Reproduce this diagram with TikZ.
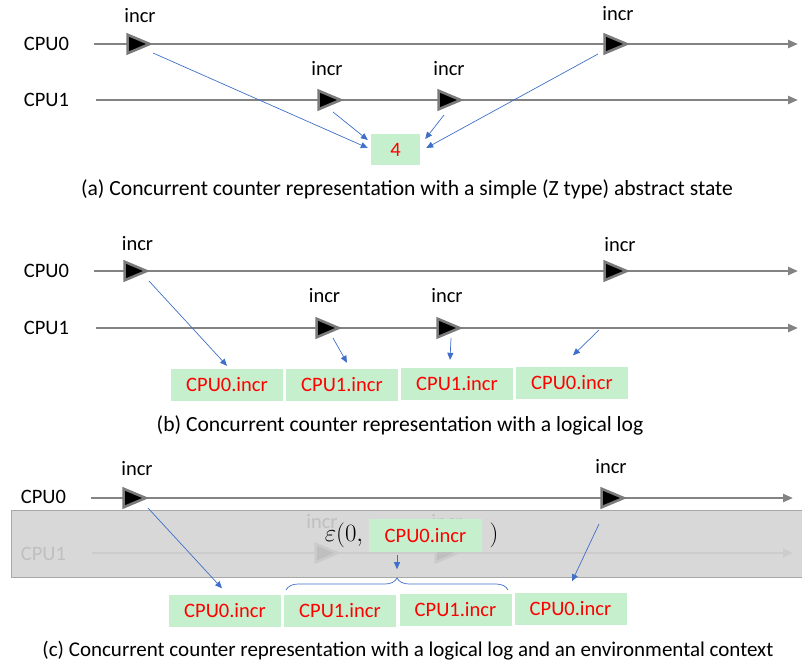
\documentclass[tikz,border=0pt]{standalone}
\usepackage{fontspec}
\setmainfont{Carlito}
\usetikzlibrary{arrows.meta,shapes.geometric,decorations.pathreplacing}
\definecolor{tlgray}{HTML}{838383}
\definecolor{evgray}{HTML}{7A7A7A}
\definecolor{logblue}{HTML}{3F6FC8}
\definecolor{cellgreen}{HTML}{C6EFCE}
\definecolor{envfill}{HTML}{D4D4D4}
\definecolor{envedge}{HTML}{A8A8A8}
\tikzset{
  txt/.style={inner sep=0pt, font=\fontsize{20.5}{22}\selectfont},
  cpulbl/.style={txt},
  evlbl/.style={txt},
  caption/.style={inner sep=0pt, font=\fontsize{21.6}{23}\selectfont},
  timeline/.style={draw=tlgray, line width=2.4pt, -{Triangle[length=10pt,width=8pt]}},
  ev/.style={isosceles triangle, isosceles triangle stretches, minimum width=18.5pt,
    minimum height=22pt, inner sep=0pt, fill=black, draw=evgray, line width=2.6pt, anchor=apex},
  logarrow/.style={draw=logblue, line width=0.7pt, -{Triangle[length=7pt,width=6pt]}},
  cell/.style={txt, fill=cellgreen, text=red, minimum width=112pt, minimum height=32pt},
  logbrace/.style={draw=logblue, line width=0.7pt, decorate, decoration={brace, amplitude=12pt}},
  envband/.style={fill=envfill, fill opacity=0.9, draw=envedge, line width=1pt},
  mathtxt/.style={inner sep=0pt, font=\fontsize{24}{25}\selectfont}
}
\begin{document}
\begin{tikzpicture}[x=1pt,y=-1pt]
\useasboundingbox (0,0) rectangle (802,665);

% ---------- (a) shared counter ----------
\node[cpulbl] (a0lbl) at (46.5,44) {CPU0};
\node[cpulbl] (a1lbl) at (46.5,100) {CPU1};
\coordinate (a0s) at (94,44);  \coordinate (a0t) at (798,44);
\coordinate (a1s) at (96,100); \coordinate (a1t) at (798,100);
\draw[timeline] (a0s) -- (a0t);
\draw[timeline] (a1s) -- (a1t);
\node[ev] (a0e1) at (153,44) {};
\node[ev] (a0e2) at (630,44) {};
\node[ev] (a1e1) at (344,100) {};
\node[ev] (a1e2) at (464,100) {};
\node[evlbl] (a0i1) at (140,16) {incr};
\node[evlbl] (a0i2) at (618,14) {incr};
\node[evlbl] (a1i1) at (327,69) {incr};
\node[evlbl] (a1i2) at (449,69) {incr};
\node[cell, minimum width=49pt, minimum height=31pt] (cnt) at (395.5,149.5) {4};
\draw[logarrow] ([shift={(0,9)}]a0e1.apex) -- ([shift={(-3,-1.5)}]cnt.west);
\draw[logarrow] ([shift={(-11,12)}]a1e1.apex) -- ([shift={(-3,-9.5)}]cnt.west);
\draw[logarrow] ([shift={(-20,15)}]a1e2.apex) -- ([shift={(5,-10.5)}]cnt.east);
\draw[logarrow] ([shift={(-32,10)}]a0e2.apex) -- ([shift={(6,-1.5)}]cnt.east);
\node[caption] (capa) at (407,189) {(a) Concurrent counter representation with a simple (Z type) abstract state};

% ---------- (b) logical log ----------
\node[cpulbl] (b0lbl) at (46.5,271) {CPU0};
\node[cpulbl] (b1lbl) at (46.5,328) {CPU1};
\coordinate (b0s) at (94,271);  \coordinate (b0t) at (798,271);
\coordinate (b1s) at (96,328);  \coordinate (b1t) at (798,328);
\draw[timeline] (b0s) -- (b0t);
\draw[timeline] (b1s) -- (b1t);
\node[ev] (b0e1) at (150,271) {};
\node[ev] (b0e2) at (630,271) {};
\node[ev] (b1e1) at (342,328) {};
\node[ev] (b1e2) at (463,328) {};
\node[evlbl] (b0i1) at (137.5,244) {incr};
\node[evlbl] (b0i2) at (620,245) {incr};
\node[evlbl] (b1i1) at (324.5,296) {incr};
\node[evlbl] (b1i2) at (447,296) {incr};
\node[cell] (b1) at (227,385) {CPU0.incr};
\node[cell] (b2) at (342,385) {CPU1.incr};
\node[cell] (b3) at (457,384) {CPU1.incr};
\node[cell] (b4) at (572,382.5) {CPU0.incr};
\draw[logarrow] ([shift={(-1,10)}]b0e1.apex) -- ([shift={(0,-3)}]b1.north);
\draw[logarrow] ([shift={(-9,10)}]b1e1.apex) -- ([shift={(5,-6)}]b2.north);
\draw[logarrow] ([shift={(-12,10)}]b1e2.apex) -- ([shift={(-7,-8)}]b3.north);
\draw[logarrow] ([shift={(-31,59)}]b0e2.apex) -- ([shift={(1,-11)}]b4.north);
\node[caption] (capb) at (400,425) {(b) Concurrent counter representation with a logical log};

% ---------- (c) logical log with environmental context ----------
\node[cpulbl] (c0lbl) at (43.5,497) {CPU0};
\coordinate (c0s) at (91,498);  \coordinate (c0t) at (793,498);
\draw[timeline] (c0s) -- (c0t);
\node[ev] (c0e1) at (149,498) {};
\node[ev] (c0e2) at (627,498) {};
\node[evlbl] (c0i1) at (137,469) {incr};
\node[evlbl] (c0i2) at (611,467) {incr};

% CPU1 sits behind the environment band
\node[cpulbl] (c1lbl) at (43.5,554) {CPU1};
\coordinate (c1s) at (92,553);  \coordinate (c1t) at (793,553);
\draw[timeline] (c1s) -- (c1t);
\node[ev] (c1e1) at (341,553) {};
\node[ev] (c1e2) at (461,553) {};
\node[evlbl] (c1i1) at (322,522) {incr};
\node[evlbl] (c1i2) at (447,522) {incr};
\coordinate (envA) at (11,510);
\coordinate (envB) at (802,577);
\path[envband] (envA) rectangle (envB);

\node[mathtxt] (epsl) at (344,535) {$\varepsilon(0,$};
\node[cell, minimum width=113pt, minimum height=33pt] (epsbox) at (425.5,535.5) {CPU0.incr};
\node[mathtxt] (epsr) at (494,535) {$)$};

\node[cell] (c1) at (225,610.5) {CPU0.incr};
\node[cell] (c2) at (340,610.5) {CPU1.incr};
\node[cell] (c3) at (455.5,610) {CPU1.incr};
\node[cell] (c4) at (570.5,609) {CPU0.incr};

\coordinate (brL) at (286,590);
\coordinate (brR) at (508,590);
\draw[logbrace] (brL) -- (brR);
\draw[logarrow] ([shift={(-28.5,3)}]epsbox.south) -- ([shift={(-28.5,17)}]epsbox.south);
\draw[logarrow] ([shift={(-1,10)}]c0e1.apex) -- ([shift={(-3,-6)}]c1.north);
\draw[logarrow] ([shift={(-28,26)}]c0e2.apex) -- ([shift={(1.5,-11.5)}]c4.north);
\node[caption, font=\fontsize{21}{23}\selectfont] (capc) at (408,651) {(c) Concurrent counter representation with a logical log and an environmental context};
\end{tikzpicture}
\end{document}
